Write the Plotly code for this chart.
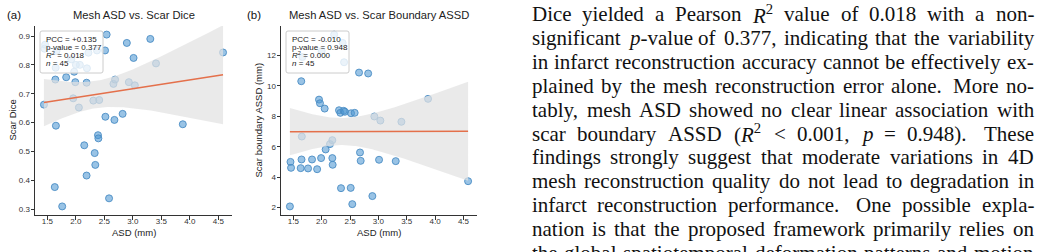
import numpy as np
import plotly.graph_objects as go

W, H = 1038, 252

# ---------------- data ----------------
asd = [1.44, 1.45, 1.46, 1.64, 1.65, 1.63, 1.645, 1.76, 1.83, 1.92,
       1.953, 1.97, 1.99, 2.053, 2.07, 2.147, 2.188, 2.188, 2.194, 2.22,
       2.306, 2.33, 2.341, 2.37, 2.388, 2.395, 2.41, 2.512, 2.518, 2.54,
       2.582, 2.659, 2.676, 2.688, 2.82, 2.894, 2.929, 3.012, 3.035, 3.306,
       3.406, 3.876, 4.582, 1.66, 2.0]
scar_dice = [0.662, 0.856, 0.87, 0.749, 0.589, 0.376, 0.79, 0.309, 0.757, 0.819,
             0.684, 0.776, 0.740, 0.652, 0.80, 0.521, 0.738, 0.416, 0.788, 0.842,
             0.676, 0.494, 0.453, 0.85, 0.556, 0.545, 0.678, 0.850, 0.620, 0.905,
             0.337, 0.734, 0.609, 0.749, 0.630, 0.876, 0.740, 0.824, 0.729, 0.890,
             0.805, 0.594, 0.843, 0.848, 0.80]
scar_assd = [2.07, 5.00, 4.61, 10.31, 6.67, 4.59, 5.16, 4.57, 5.16, 4.52,
             9.10, 8.86, 5.25, 8.51, 5.82, 6.17, 6.43, 5.25, 4.81, 13.38,
             8.40, 8.23, 3.27, 12.83, 8.36, 11.56, 8.30, 3.29, 8.20, 2.22,
             8.23, 10.88, 5.62, 5.07, 10.82, 2.75, 7.99, 5.14, 7.72, 5.05,
             7.64, 9.15, 3.73, 11.9, 12.3]

x_ticks = [1.5, 2.0, 2.5, 3.0, 3.5, 4.0, 4.5]
dice_ticks = [0.3, 0.4, 0.5, 0.6, 0.7, 0.8, 0.9]
assd_ticks = [2, 4, 6, 8, 10, 12]

panel_tags = ["(a)", "(b)"]
panel_titles = ["Mesh ASD vs. Scar Dice", "Mesh ASD vs. Scar Boundary ASSD"]
x_title = "ASD (mm)"
y_titles = ["Scar Dice", "Scar boundary ASSD (mm)"]
stats_a = ["PCC = +0.135", "p-value = 0.377", "<i>R</i><sup>2</sup> = 0.018", "<i>n</i> = 45"]
stats_b = ["PCC = -0.010", "p-value = 0.948", "<i>R</i><sup>2</sup> = 0.000", "<i>n</i> = 45"]

paragraph = [
    "Dice yielded a Pearson <i>R</i><sup>2</sup> value of 0.018 with a non-",
    "significant <i>p</i>-value of 0.377, indicating that the variability",
    "in infarct reconstruction accuracy cannot be effectively ex-",
    "plained by the mesh reconstruction error alone. More no-",
    "tably, mesh ASD showed no clear linear association with",
    "scar boundary ASSD (<i>R</i><sup>2</sup> &lt; 0.001, <i>p</i> = 0.948). These",
    "findings strongly suggest that moderate variations in 4D",
    "mesh reconstruction quality do not lead to degradation in",
    "infarct reconstruction performance. One possible expla-",
    "nation is that the proposed framework primarily relies on",
    "the global spatiotemporal deformation patterns and motion",
]

# ---------------- helpers ----------------
def px(xp):
    return xp / W

def py(yp):
    return 1 - yp / H

SANS = "Liberation Sans, Arial, sans-serif"
SERIF = "Liberation Serif, Times New Roman, serif"
AX_COLOR = "#333333"
PT_FILL = "rgba(80,152,210,0.58)"
PT_EDGE = "rgb(74,140,196)"
BAND = "rgba(226,226,226,0.72)"
LINE = "#e4704b"

panels = [
    dict(y=scar_dice, ticks=dice_ticks, fmt="{:.1f}", left=35, right=232, stats=stats_a),
    dict(y=scar_assd, ticks=assd_ticks, fmt="{:d}", left=281, right=477, stats=stats_b),
]
TOP, BOTTOM = 26, 215

fig = go.Figure()
layout = dict(width=W, height=H, margin=dict(l=0, r=0, t=0, b=0),
              paper_bgcolor="white", plot_bgcolor="white", showlegend=False)
annotations = []
shapes = []

xa = np.array(asd, dtype=float)
xpad = 0.05 * (xa.max() - xa.min())
xrange_ = [xa.min() - xpad, xa.max() + xpad]

for i, p in enumerate(panels):
    ya = np.array(p["y"], dtype=float)
    sfx = "" if i == 0 else str(i + 1)
    xref, yref = "x" + sfx, "y" + sfx
    # scatter
    fig.add_trace(go.Scatter(x=xa, y=ya, mode="markers", xaxis=xref, yaxis=yref,
                             marker=dict(size=7, color=PT_FILL,
                                         line=dict(color=PT_EDGE, width=0.9)),
                             hoverinfo="skip"))
    # regression + 95% CI
    n = len(xa)
    b1, b0 = np.polyfit(xa, ya, 1)
    xg = np.linspace(xa.min(), xa.max(), 120)
    yh = b0 + b1 * xg
    resid = ya - (b0 + b1 * xa)
    s = np.sqrt(np.sum(resid ** 2) / (n - 2))
    sxx = np.sum((xa - xa.mean()) ** 2)
    se = s * np.sqrt(1.0 / n + (xg - xa.mean()) ** 2 / sxx)
    t = 2.0167
    up, lo = yh + t * se, yh - t * se
    fig.add_trace(go.Scatter(x=np.concatenate([xg, xg[::-1]]),
                             y=np.concatenate([up, lo[::-1]]),
                             fill="toself", fillcolor=BAND, mode="lines",
                             line=dict(width=0), xaxis=xref, yaxis=yref,
                             hoverinfo="skip"))
    fig.add_trace(go.Scatter(x=xg, y=yh, mode="lines", xaxis=xref, yaxis=yref,
                             line=dict(color=LINE, width=1.5), hoverinfo="skip"))

    ypad = 0.05 * (ya.max() - ya.min())
    yrange_ = [ya.min() - ypad, ya.max() + ypad]
    axcommon = dict(showline=True, linecolor=AX_COLOR, linewidth=1, ticks="outside",
                    ticklen=3.5, tickwidth=1, tickcolor=AX_COLOR, showgrid=False,
                    zeroline=False, mirror=False,
                    tickfont=dict(family=SANS, size=8, color="#333333"))
    layout["xaxis" + sfx] = dict(axcommon, domain=[px(p["left"]), px(p["right"])],
                                 range=xrange_, tickvals=x_ticks,
                                 ticktext=["{:.1f}".format(v) for v in x_ticks],
                                 anchor=yref, ticklabelstandoff=-5)
    layout["yaxis" + sfx] = dict(axcommon, domain=[py(BOTTOM), py(TOP)],
                                 range=yrange_, tickvals=p["ticks"],
                                 ticktext=[p["fmt"].format(v) for v in p["ticks"]],
                                 anchor=xref, ticklabelstandoff=-1)
    cx = (p["left"] + p["right"]) / 2
    # title, tag
    annotations.append(dict(x=px(cx), y=py(15), xref="paper", yref="paper",
                            text=panel_titles[i], showarrow=False, xanchor="center",
                            yanchor="middle", font=dict(family=SANS, size=11.2, color="#222")))
    annotations.append(dict(x=px(p["left"] - 30 if i == 0 else p["left"] - 36), y=py(15),
                            xref="paper", yref="paper", text=panel_tags[i], showarrow=False,
                            xanchor="left", yanchor="middle",
                            font=dict(family=SANS, size=11.5, color="#111")))
    # axis titles
    annotations.append(dict(x=px(cx), y=py(232), xref="paper", yref="paper", text=x_title,
                            showarrow=False, xanchor="center", yanchor="middle",
                            font=dict(family=SANS, size=9.5, color="#222")))
    annotations.append(dict(x=px(p["left"] - 23), y=py((TOP + BOTTOM) / 2), xref="paper",
                            yref="paper", text=y_titles[i], showarrow=False, textangle=-90,
                            xanchor="center", yanchor="middle",
                            font=dict(family=SANS, size=9.5, color="#222")))
    # stats box
    bx0, by0 = p["left"] + 5, TOP + 5
    bx1, by1 = bx0 + 63, by0 + 42
    r = 2.0
    path = ("M {a},{b} L {c},{b} Q {d},{b} {d},{e} L {d},{f} Q {d},{g} {c},{g} "
            "L {a},{g} Q {h},{g} {h},{f} L {h},{e} Q {h},{b} {a},{b} Z").format(
        a=px(bx0 + r), b=py(by0), c=px(bx1 - r), d=px(bx1), e=py(by0 + r),
        f=py(by1 - r), g=py(by1), h=px(bx0))
    shapes.append(dict(type="path", xref="paper", yref="paper", path=path,
                       fillcolor="rgba(255,255,255,0.8)", line=dict(color="#cccccc", width=1),
                       layer="above"))
    for k, txt in enumerate(p["stats"]):
        annotations.append(dict(x=px(bx0 + 4), y=py(by0 + 8 + 8 * k), xref="paper",
                                yref="paper", text=txt, showarrow=False, xanchor="left",
                                yanchor="middle", font=dict(family=SANS, size=8, color="#222")))

# ---------------- justified paragraph ----------------
TIMES = {' ': 250, '!': 333, '(': 333, ')': 333, ',': 250, '-': 333, '.': 250, ';': 278,
         ':': 278, '<': 564, '=': 564, '>': 564,
         'A': 722, 'B': 667, 'C': 667, 'D': 722, 'E': 611, 'F': 556, 'G': 722, 'H': 722,
         'I': 333, 'J': 389, 'K': 722, 'L': 611, 'M': 889, 'N': 722, 'O': 722, 'P': 556,
         'Q': 722, 'R': 667, 'S': 556, 'T': 611, 'U': 722, 'V': 722, 'W': 944, 'X': 722,
         'Y': 722, 'Z': 611, 'a': 444, 'b': 500, 'c': 444, 'd': 500, 'e': 444, 'f': 333,
         'g': 500, 'h': 500, 'i': 278, 'j': 278, 'k': 500, 'l': 278, 'm': 778, 'n': 500,
         'o': 500, 'p': 500, 'q': 500, 'r': 333, 's': 389, 't': 278, 'u': 500, 'v': 500,
         'w': 722, 'x': 500, 'y': 500, 'z': 444}
for d in "0123456789":
    TIMES[d] = 500

def word_em(word):
    w = word.replace("<i>", "").replace("</i>", "").replace("&lt;", "<")
    total = 0.0
    scale = 1.0
    j = 0
    while j < len(w):
        if w.startswith("<sup>", j):
            scale = 0.7; j += 5; continue
        if w.startswith("</sup>", j):
            scale = 1.0; j += 6; continue
        total += TIMES.get(w[j], 500) / 1000.0 * scale
        j += 1
    return total

TX0, TX1 = 530.5, 1033.0
LINE0, LSTEP = 14.0, 23.9
lines_words = [ln.split(" ") for ln in paragraph]
need = []
for words in lines_words:
    em = sum(word_em(w) for w in words) + 0.27 * (len(words) - 1)
    need.append((TX1 - TX0) / em)
FS = min(min(need), 21.0)

for li, words in enumerate(lines_words):
    widths = [word_em(w) * FS for w in words]
    weights = [1.45 if words[k].endswith(".") or words[k].endswith(").") else 1.0
               for k in range(len(words) - 1)]
    free = (TX1 - TX0) - sum(widths)
    gaps = [free * wt / sum(weights) for wt in weights]
    xcur = TX0
    for k, w in enumerate(words):
        annotations.append(dict(x=px(xcur), y=py(LINE0 + LSTEP * li), xref="paper",
                                yref="paper", text=w, showarrow=False, xanchor="left",
                                yanchor="middle", borderpad=0,
                                font=dict(family=SERIF, size=FS, color="#111")))
        if k < len(gaps):
            xcur += widths[k] + gaps[k]

layout["annotations"] = annotations
layout["shapes"] = shapes
fig.update_layout(**layout)
fig.write_html("out.html")
